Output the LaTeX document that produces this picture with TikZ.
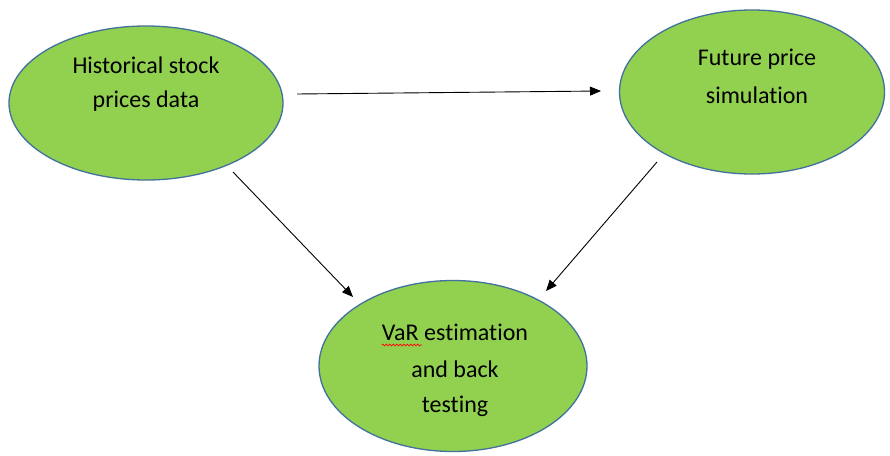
\documentclass[tikz,border=0pt]{standalone}
\usepackage{fontspec}
\setmainfont{Carlito}[Ligatures=NoCommon]
\usetikzlibrary{shapes.geometric,arrows.meta,decorations.pathmorphing}
\definecolor{fillgreen}{HTML}{92D050}
\definecolor{edgeblue}{HTML}{41719C}
\tikzset{
  bubble/.style={ellipse, draw=edgeblue, line width=1.3pt, fill=fillgreen, inner sep=0pt},
  txt/.style={font=\fontsize{24}{28}\selectfont, text=black, inner sep=0pt, anchor=base},
  conn/.style={draw=black, line width=0.9pt, -{Triangle[length=11pt,width=9pt]}}
}
\begin{document}
\begin{tikzpicture}[x=1pt,y=-1pt]
\useasboundingbox (0,0) rectangle (890,455);
\node[bubble, minimum width=274pt, minimum height=154pt] (hist) at (146,103) {};
\node[bubble, minimum width=265pt, minimum height=164pt] (fut) at (752,92) {};
\node[bubble, minimum width=268pt, minimum height=171pt] (var) at (453,366) {};
\node[txt] (h1) at (146,73) {Historical stock};
\node[txt] (h2) at (146,107) {prices data};
\node[txt] (f1) at (757,65) {Future price};
\node[txt] (f2) at (757,103) {simulation};
\node[txt] (v1) at (455,340) {VaR estimation};
\node[txt] (v2) at (455,377) {and back};
\node[txt] (v3) at (455,412) {testing};
\draw[red, line width=0.7pt, decorate, decoration={snake, amplitude=0.9pt, segment length=3.5pt}]
  ([yshift=-5pt]v1.base west) -- ([yshift=-5pt,xshift=40pt]v1.base west);
\coordinate (a1s) at (297,94);
\coordinate (a1e) at (601,91);
\coordinate (a2s) at (233,172);
\coordinate (a2e) at (353,297);
\coordinate (a3s) at (657,162);
\coordinate (a3e) at (546,291);
\draw[conn] (a1s) -- (a1e);
\draw[conn] (a2s) -- (a2e);
\draw[conn] (a3s) -- (a3e);
\end{tikzpicture}
\end{document}
